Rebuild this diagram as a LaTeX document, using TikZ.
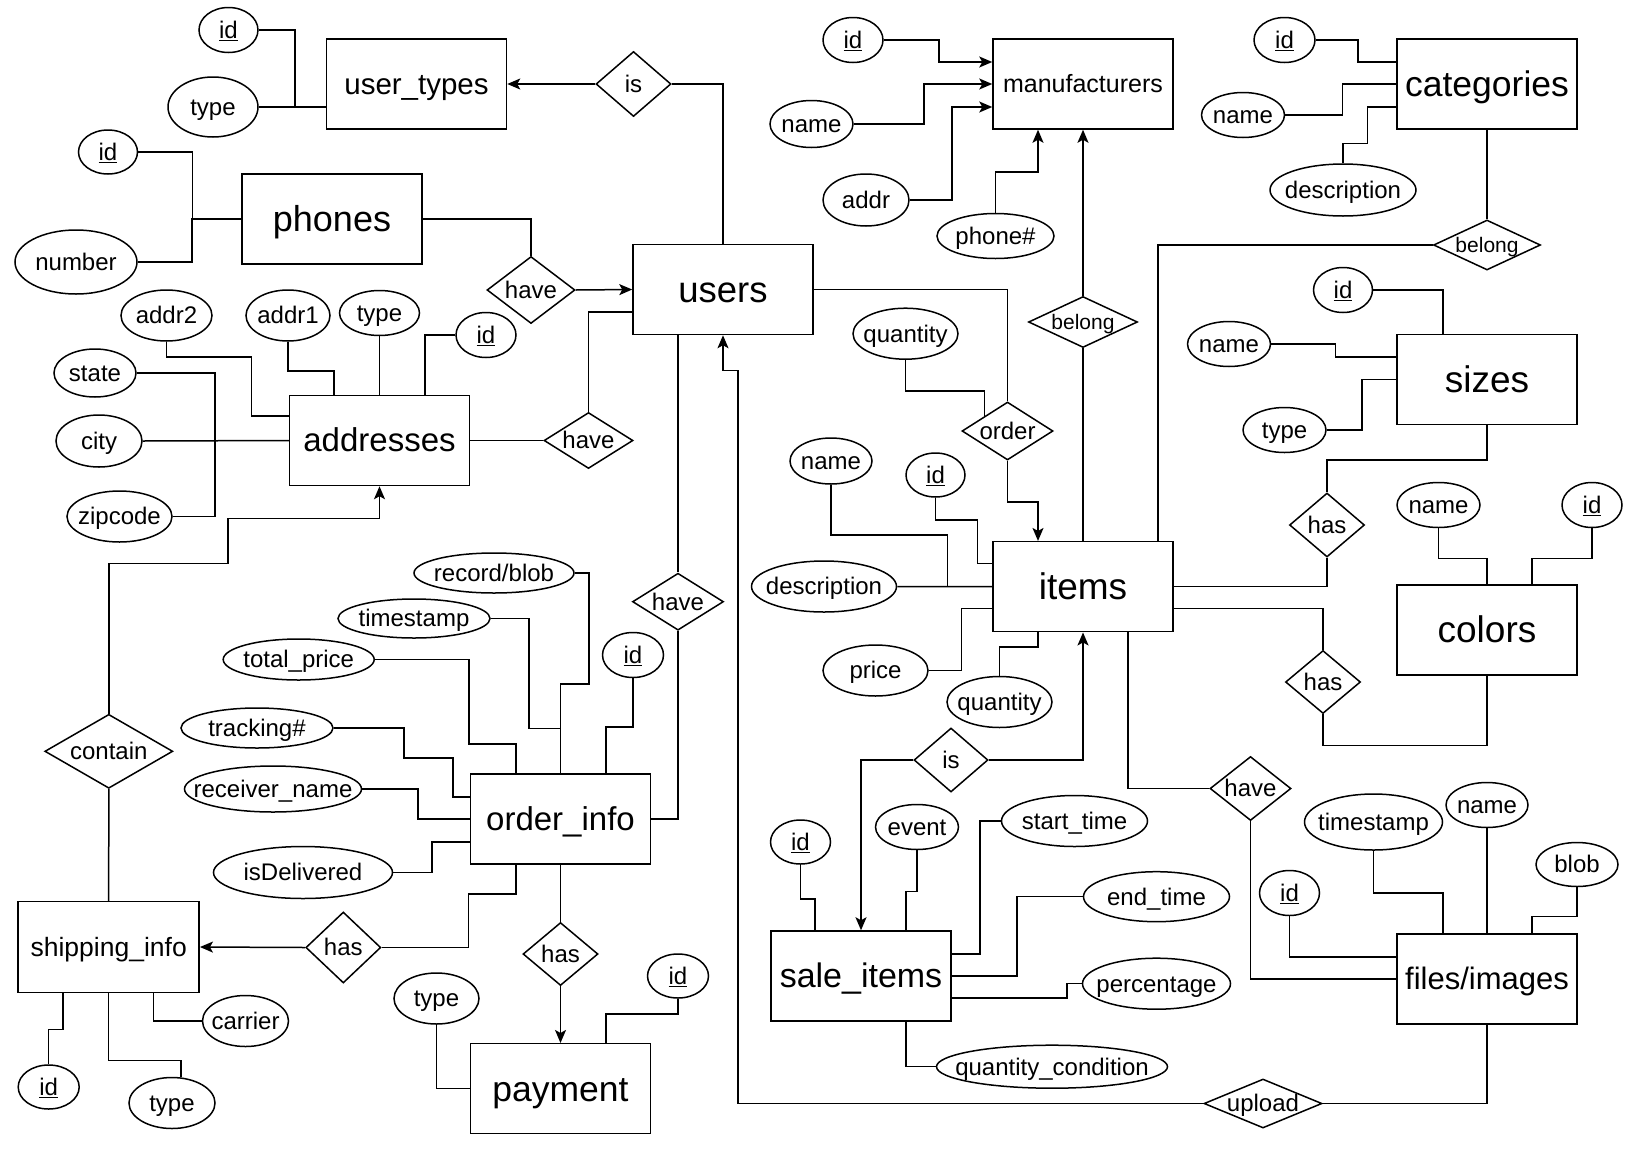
\documentclass[tikz,border=0pt]{standalone}
\usepackage{fontspec}
\setmainfont{Liberation Sans}
\usetikzlibrary{shapes.geometric,arrows.meta,positioning}
\tikzset{
    fs/.style={font=\fontsize{#1}{#1}\selectfont,text height=0.693*#1,text depth=0pt},
    sz/.style 2 args={minimum width=#1,minimum height=#2},
    nowidth/.style={execute at begin node={\hbox to 0pt\bgroup\hss},
        execute at end node={\hss\egroup}},
    entity/.style={draw,rectangle,inner sep=0pt,minimum width=180,minimum height=90,fs=36},
    attr/.style={draw,ellipse,inner sep=0pt,nowidth,fs=24},
    rel/.style={draw,diamond,inner sep=0pt,nowidth,fs=24},
    arr/.style={-{Stealth[length=13pt,width=11pt,inset=3pt]}}
}

\begin{document}
\begin{tikzpicture}[x=1pt,y=-1pt,line width=1.5pt]
    \useasboundingbox (0,0) rectangle (1627,1154);

    \node[entity,fs=29.5] (utypes) at (416.5,84) {user\_types};
    \node[entity] (phones) at (332,219) {phones};
    \node[entity,fs=36.5] (users) at (723,289.5) {users};
    \node[entity,fs=33] (addr) at (379.5,440.5) {addresses};
    \node[entity,fs=25] (manuf) at (1083,84) {manufacturers};
    \node[entity,fs=35.5] (cat) at (1487,84) {categories};
    \node[entity,fs=37] (sizes) at (1487,379.3) {sizes};
    \node[entity,fs=37] (items) at (1083,586.7) {items};
    \node[entity,fs=37] (colors) at (1487,630) {colors};
    \node[entity,fs=33] (oinfo) at (560.5,819) {order\_info};
    \node[entity,fs=26.5,sz={181}{91}] (ship) at (108.7,947) {shipping\_info};
    \node[entity,fs=35.5] (pay) at (560.5,1088.7) {payment};
    \node[entity,fs=34] (sitems) at (861,976) {sale\_items};
    \node[entity,fs=31] (files) at (1487,979) {files/images};

    \node[rel,sz={75}{65}] (is1) at (633.5,84) {is};
    \node[rel,sz={88}{67}] (have1) at (531,290) {have};
    \node[rel,sz={89}{56}] (have2) at (588.5,440.5) {have};
    \node[rel,sz={91}{57}] (have3) at (678,601.7) {have};
    \node[rel,sz={91}{58}] (order) at (1007.5,431) {order};
    \node[rel,sz={109}{51},fs=21] (bel1) at (1083,322) {belong};
    \node[rel,sz={107}{50},fs=21] (bel2) at (1487,245) {belong};
    \node[rel,sz={75}{64}] (has1) at (1327,525) {has};
    \node[rel,sz={75}{63}] (has2) at (1323,682) {has};
    \node[rel,sz={81}{64}] (have4) at (1250.5,788.5) {have};
    \node[rel,sz={74}{64}] (is2) at (951,760) {is};
    \node[rel,sz={118}{49}] (upload) at (1263,1103.5) {upload};
    \node[rel,sz={75}{71}] (has3) at (343.3,947.5) {has};
    \node[rel,sz={75}{63}] (has4) at (560.5,954) {has};
    \node[rel,sz={128}{74}] (contain) at (108.8,751.3) {contain};

    \node[attr,sz={59}{45}] (ut-id) at (228.5,30) {\underline{id}};
    \node[attr,sz={90}{60}] (ut-type) at (213,107) {type};
    \node[attr,sz={59}{44}] (ph-id) at (108,152) {\underline{id}};
    \node[attr,sz={122}{64}] (ph-num) at (76,262) {number};
    \node[attr,sz={91}{51}] (ad-a2) at (166.5,315.5) {addr2};
    \node[attr,sz={84}{51}] (ad-a1) at (288,315.5) {addr1};
    \node[attr,sz={80}{45}] (ad-type) at (379.5,313) {type};
    \node[attr,sz={60}{45}] (ad-id) at (486,335) {\underline{id}};
    \node[attr,sz={82}{48}] (ad-state) at (95,373) {state};
    \node[attr,sz={86}{52}] (ad-city) at (99,441) {city};
    \node[attr,sz={105}{51}] (ad-zip) at (119.5,516.5) {zipcode};
    \node[attr,sz={60}{45}] (mf-id) at (853,40) {\underline{id}};
    \node[attr,sz={83}{47}] (mf-name) at (811.5,124) {name};
    \node[attr,sz={86}{52}] (mf-addr) at (866,200) {addr};
    \node[attr,sz={117}{45}] (mf-ph) at (995.5,236) {phone\#};
    \node[attr,sz={61}{45}] (cat-id) at (1284.5,40) {\underline{id}};
    \node[attr,sz={83}{45}] (cat-name) at (1243,115) {name};
    \node[attr,sz={146}{52}] (cat-desc) at (1343,190) {description};
    \node[attr,sz={59}{45}] (sz-id) at (1343,290) {\underline{id}};
    \node[attr,sz={83}{45}] (sz-name) at (1229,344) {name};
    \node[attr,sz={83}{45}] (sz-type) at (1284.5,430) {type};
    \node[attr,sz={83}{45}] (co-name) at (1438.5,505) {name};
    \node[attr,sz={60}{45}] (co-id) at (1592,505) {\underline{id}};
    \node[attr,sz={105}{51}] (ord-qty) at (905.5,333.7) {quantity};
    \node[attr,sz={82}{46}] (it-name) at (831,461) {name};
    \node[attr,sz={59}{44}] (it-id) at (935.5,475) {\underline{id}};
    \node[attr,sz={145}{51}] (it-desc) at (824,586.5) {description};
    \node[attr,sz={105}{51}] (it-price) at (875.5,670.5) {price};
    \node[attr,sz={105}{51}] (it-qty) at (999.5,702) {quantity};
    \node[attr,sz={138}{56}] (fi-ts) at (1373.5,822) {timestamp};
    \node[attr,sz={82}{45}] (fi-name) at (1487,805) {name};
    \node[attr,sz={82}{44}] (fi-blob) at (1577,864.5) {blob};
    \node[attr,sz={60}{45}] (fi-id) at (1289.5,893) {\underline{id}};
    \node[attr,sz={60}{44}] (si-id) at (800.5,842) {\underline{id}};
    \node[attr,sz={83}{45}] (si-event) at (917,827) {event};
    \node[attr,sz={146}{51}] (si-start) at (1074.5,821) {start\_time};
    \node[attr,sz={146}{50}] (si-end) at (1156.5,896.7) {end\_time};
    \node[attr,sz={148}{51}] (si-pct) at (1156.5,983.7) {percentage};
    \node[attr,sz={231}{43}] (si-qc) at (1052,1066.7) {quantity\_condition};
    \node[attr,sz={160}{40}] (oi-rb) at (494,573) {record/blob};
    \node[attr,sz={152}{39}] (oi-ts) at (414,618.5) {timestamp};
    \node[attr,sz={151}{41}] (oi-tp) at (298.7,659.5) {total\_price};
    \node[attr,sz={61}{45}] (oi-id) at (633,655) {\underline{id}};
    \node[attr,sz={152}{40}] (oi-tr) at (257,728) {tracking\#};
    \node[attr,sz={177}{46}] (oi-rn) at (273,789) {receiver\_name};
    \node[attr,sz={179}{52}] (oi-del) at (303,872.5) {isDelivered};
    \node[attr,sz={85}{51}] (pay-type) at (436.5,998.5) {type};
    \node[attr,sz={61}{44}] (pay-id) at (678,976) {\underline{id}};
    \node[attr,sz={61}{44}] (sh-id) at (48.7,1087) {\underline{id}};
    \node[attr,sz={86}{51}] (sh-type) at (172,1103) {type};
    \node[attr,sz={86}{51}] (sh-car) at (245.5,1021) {carrier};

    \draw (ut-id.east) -- ++(36,0) |- ([yshift=-23pt]utypes.west);
    \draw (ut-type.east) -- ([yshift=-23pt]utypes.west);
    \draw[arr] (is1.west) -- (utypes.east);
    \draw (is1.east) -| (users.north);

    \draw (ph-id.east) -- ++(54,0) |- (phones.west);
    \draw (ph-num.east) -- ++(54,0) |- (phones.west);
    \draw (phones.east) -| (have1.north);
    \draw[arr] (have1.east) -- (users.west);

    \draw (ad-state.east) -- ++(78,0) |- (addr.west);
    \draw (ad-zip.east) -- ++(42,0) |- (addr.west);
    \draw (ad-city.east) -- (addr.west);
    \draw (ad-a2.south) -- ++(0,15) -- ++(85,0) |- ([yshift=24.5pt]addr.west);
    \draw (ad-a1.south) -- ++(0,29) -| ([xshift=-45.5pt]addr.north);
    \draw (ad-type.south) -- (addr.north);
    \draw (ad-id.west) -| ([xshift=45.5pt]addr.north);
    \draw (addr.east) -- (have2.west);
    \draw (have2.north) |- ([yshift=-22.5pt]users.west);

    \draw ([xshift=-45pt]users.south) -- (have3.north);
    \draw (have3.south) |- (oinfo.east);
    \draw (users.east) -| (order.north);
    \draw (ord-qty.south) -- ++(0,31) -| (order.north west);
    \draw[arr] (order.south) -- ++(0,41) -| ([xshift=-45pt]items.north);
    \draw[arr] (upload.west) -| ([xshift=15pt,yshift=-35pt]users.south) -| (users.south);
    \draw (files.south) |- (upload.east);

    \draw[arr] (mf-id.east) -- ++(55,0) |- ([yshift=22pt]manuf.west);
    \draw[arr] (mf-name.east) -- ++(70,0) |- (manuf.west);
    \draw[arr] (mf-addr.east) -- ++(42,0) |- ([yshift=-23pt]manuf.west);
    \draw[arr] (mf-ph.north) -- ++(0,-41) -| ([xshift=-45pt]manuf.south);
    \draw[arr] (bel1.north) -- (manuf.south);
    \draw (bel1.south) -- (items.north);

    \draw (cat-id.east) -- ++(42,0) |- ([yshift=22pt]cat.west);
    \draw (cat-name.east) -- ++(57,0) |- (cat.west);
    \draw (cat-desc.north) -- ++(0,-20) -| ([xshift=-29pt,yshift=-23pt]cat.west) -- ([yshift=-23pt]cat.west);
    \draw (cat.south) -- (bel2.north);
    \draw (bel2.west) -| ([xshift=75pt]items.north);

    \draw (sz-id.east) -| ([xshift=-44pt]sizes.north);
    \draw (sz-name.east) -- ++(64,0) |- ([yshift=22.5pt]sizes.west);
    \draw (sz-type.east) -- ++(35,0) |- (sizes.west);
    \draw (sizes.south) -- ++(0,35) -| (has1.north);
    \draw (has1.south) |- (items.east);

    \draw (co-name.south) -- ++(0,30) -| (colors.north);
    \draw (co-id.south) -- ++(0,30) -| ([xshift=45pt]colors.north);
    \draw ([yshift=-22pt]items.east) -| (has2.north);
    \draw (has2.south) -- ++(0,31) -| (colors.south);

    \draw (it-name.south) -- ++(0,50) -| ([xshift=-45pt]items.west);
    \draw (it-desc.east) -- (items.west);
    \draw (it-id.south) -- ++(0,22) -| ([xshift=-15pt,yshift=23pt]items.west) -- ([yshift=23pt]items.west);
    \draw (it-price.east) -| ([xshift=-31pt,yshift=-22pt]items.west) -- ([yshift=-22pt]items.west);
    \draw (it-qty.north) -- ++(0,-29) -| ([xshift=-45pt]items.south);
    \draw[arr] (is2.east) -| (items.south);
    \draw[arr] (is2.west) -| (sitems.north);
    \draw ([xshift=45pt]items.south) |- (have4.west);
    \draw (have4.south) |- (files.west);

    \draw (fi-id.south) |- ([yshift=22pt]files.west);
    \draw (fi-ts.south) -- ++(0,42) -| ([xshift=-44pt]files.north);
    \draw (fi-name.south) -- (files.north);
    \draw (fi-blob.south) -- ++(0,29) -| ([xshift=45pt]files.north);

    \draw (si-id.south) -- ++(0,34) -| ([xshift=-46pt]sitems.north);
    \draw (si-event.south) -- ++(0,41) -| ([xshift=45pt]sitems.north);
    \draw (si-start.west) -- ++(-21,0) |- ([yshift=22pt]sitems.east);
    \draw (si-end.west) -- ++(-66,0) |- (sitems.east);
    \draw (si-pct.west) -- ++(-15,0) |- ([yshift=-22pt]sitems.east);
    \draw ([xshift=45pt]sitems.south) |- (si-qc.west);

    \draw (oi-rb.east) -- ++(14,0) -- ++(0,111) -| (oinfo.north);
    \draw (oi-ts.east) -- ++(38,0) -- ++(0,110) -| (oinfo.north);
    \draw (oi-tp.east) -- ++(94,0) -- ++(0,84.5) -| ([xshift=-44.5pt]oinfo.north);
    \draw (oi-id.south) -- ++(0,48.5) -| ([xshift=45.5pt]oinfo.north);
    \draw (oi-tr.east) -- ++(70,0) -- ++(0,30) -| ([xshift=-17pt,yshift=22pt]oinfo.west) -- ([yshift=22pt]oinfo.west);
    \draw (oi-rn.east) -- ++(55.5,0) |- (oinfo.west);
    \draw (oi-del.east) -- ++(38.5,0) |- ([yshift=-23pt]oinfo.west);
    \draw ([xshift=-44.5pt]oinfo.south) -- ++(0,29) -| ([xshift=87pt]has3.east) -- (has3.east);
    \draw[arr] (has3.west) -- (ship.east);
    \draw (oinfo.south) -- (has4.north);
    \draw[arr] (has4.south) -- (pay.north);
    \draw (pay-type.south) |- (pay.west);
    \draw (pay-id.south) -- ++(0,15) -| ([xshift=45.5pt]pay.north);

    \draw (contain.south) -- (ship.north);
    \draw[arr] (contain.north) -- ++(0,-150) -- ++(119,0) -- ++(0,-45) -| (addr.south);
    \draw ([xshift=-45.5pt]ship.south) -- ++(0,36) -| (sh-id.north);
    \draw (ship.south) -- ++(0,67) -| ([xshift=9pt]sh-type.north);
    \draw ([xshift=45pt]ship.south) |- (sh-car.west);

\end{tikzpicture}
\end{document}
